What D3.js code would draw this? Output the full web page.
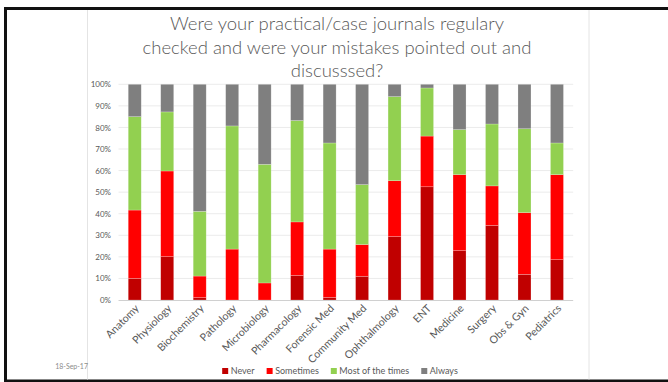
<!DOCTYPE html>
<html>
<head>
<meta charset="utf-8">
<script src="https://cdn.jsdelivr.net/npm/d3@7"></script>
<style>
  html, body { margin: 0; padding: 0; background: #fff; }
  svg { display: block; }
  text { font-family: Lato, "Open Sans", sans-serif; }
</style>
</head>
<body>
<svg id="chart" width="668" height="382"></svg>
<script>
// Subjects surveyed
const subjects = ["Anatomy", "Physiology", "Biochemistry", "Pathology", "Microbiology",
  "Pharmacology", "Forensic Med", "Community Med", "Ophthalmology", "ENT",
  "Medicine", "Surgery", "Obs & Gyn", "Pediatrics"];

// Share of responses (%) per answer, per subject
const never     = [10.0, 20.1, 1.1, 0.0, 0.0, 11.4, 1.2, 11.0, 29.4, 52.5, 22.9, 34.6, 11.9, 18.7];
const sometimes = [31.7, 39.7, 10.0, 23.6, 7.9, 24.8, 22.4, 14.7, 25.9, 23.5, 35.2, 18.3, 28.6, 39.4];
const mostTimes = [43.3, 27.4, 30.0, 57.1, 55.0, 47.0, 49.2, 27.8, 39.0, 22.3, 20.9, 28.7, 38.9, 14.7];
const always    = [15.0, 12.8, 58.9, 19.3, 37.1, 16.8, 27.2, 46.5, 5.7, 1.7, 21.0, 18.4, 20.6, 27.2];

const seriesNames = ["Never", "Sometimes", "Most of the times", "Always"];
const yTicks = [0, 10, 20, 30, 40, 50, 60, 70, 80, 90, 100];
const titleLines = ["Were your practical/case journals regulary",
  "checked and were your mistakes pointed out and", "discusssed?"];
const dateLabel = "18-Sep-17";

const colors = ["#C00000", "#FF0000", "#92D050", "#7F7F7F"];

const svg = d3.select("#chart");

// Slide frame
svg.append("rect").attr("x", 0).attr("y", 0).attr("width", 668).attr("height", 382).attr("fill", "#fff");
svg.append("rect").attr("x", 4).attr("y", 7).attr("width", 664).attr("height", 3).attr("fill", "#111");
svg.append("rect").attr("x", 4).attr("y", 7).attr("width", 3).attr("height", 375).attr("fill", "#111");
svg.append("rect").attr("x", 4).attr("y", 379.5).attr("width", 664).attr("height", 2.5).attr("fill", "#111");

// Chart area edges
[87.5, 589].forEach(x => {
  svg.append("line").attr("x1", x).attr("x2", x).attr("y1", 10).attr("y2", 379.5)
    .attr("stroke", "#E4E4E4").attr("stroke-width", 1);
});

// Title
const title = svg.append("text").attr("text-anchor", "middle").attr("fill", "#595959")
  .style("font-size", "18.5px").style("font-weight", 300);
titleLines.forEach((t, i) => {
  title.append("tspan").attr("x", 337).attr("y", 30 + i * 23.7).text(t);
});

// Scales
const x = d3.scaleBand().domain(subjects).range([118.5, 573.2]).paddingInner(0.6).paddingOuter(0.3);
const y = d3.scaleLinear().domain([0, 100]).range([300, 84.3]);

// Gridlines
svg.append("g").selectAll("line").data(yTicks.filter(d => d > 0)).join("line")
  .attr("x1", 118.5).attr("x2", 573.2)
  .attr("y1", d => y(d)).attr("y2", d => y(d))
  .attr("stroke", "#EBEBEB").attr("stroke-width", 1);

// Y axis labels
const yAxis = svg.append("g").attr("transform", "translate(118.5,0)")
  .call(d3.axisLeft(y).tickValues(yTicks).tickFormat(d => d + "%").tickSize(0).tickPadding(7.5));
yAxis.select(".domain").remove();
yAxis.selectAll("text").attr("fill", "#595959").style("font-size", "8px").style("font-family", "Lato, sans-serif");

// Stacked bars
const rows = subjects.map((s, i) => ({
  subject: s, Never: never[i], Sometimes: sometimes[i],
  "Most of the times": mostTimes[i], Always: always[i]
}));
const stack = d3.stack().keys(seriesNames)(rows);

svg.append("g").selectAll("g").data(stack).join("g")
  .attr("fill", (d, i) => colors[i])
  .selectAll("rect").data(d => d).join("rect")
  .attr("x", d => x(d.data.subject))
  .attr("width", x.bandwidth())
  .attr("y", d => y(d[1]))
  .attr("height", d => Math.max(0, y(d[0]) - y(d[1])))
  .attr("stroke", "rgba(255,255,255,0.35)").attr("stroke-width", 0.6);

// X axis
const xAxis = svg.append("g").attr("transform", "translate(0,300)")
  .call(d3.axisBottom(x).tickSize(0).tickPadding(0));
xAxis.select(".domain").attr("stroke", "#D0D0D0").attr("d", "M118.5,0.5H573.2");
xAxis.selectAll("text")
  .attr("fill", "#595959").style("font-size", "10.6px").style("font-family", "Lato, sans-serif")
  .attr("text-anchor", "end").attr("dy", "0")
  .attr("transform", "translate(5,9) rotate(-45)");

// Legend
const legend = svg.append("g");
let lx = 0;
seriesNames.forEach((name, i) => {
  const g = legend.append("g");
  g.append("rect").attr("x", 0).attr("y", -3).attr("width", 6).attr("height", 6).attr("fill", colors[i]);
  const t = g.append("text").attr("x", 8.5).attr("y", 3.3).attr("fill", "#595959")
    .style("font-size", "9px").text(name);
  const w = 8.5 + t.node().getComputedTextLength();
  g.attr("transform", `translate(${lx},0)`);
  lx += w + 12;
});
const legendWidth = lx - 12;
legend.attr("transform", `translate(${340 - legendWidth / 2},371)`);

// Date footer
svg.append("text").attr("x", 88).attr("y", 368.5).attr("text-anchor", "end")
  .attr("fill", "#8C8C8C").style("font-size", "7px").text(dateLabel);
</script>
</body>
</html>
